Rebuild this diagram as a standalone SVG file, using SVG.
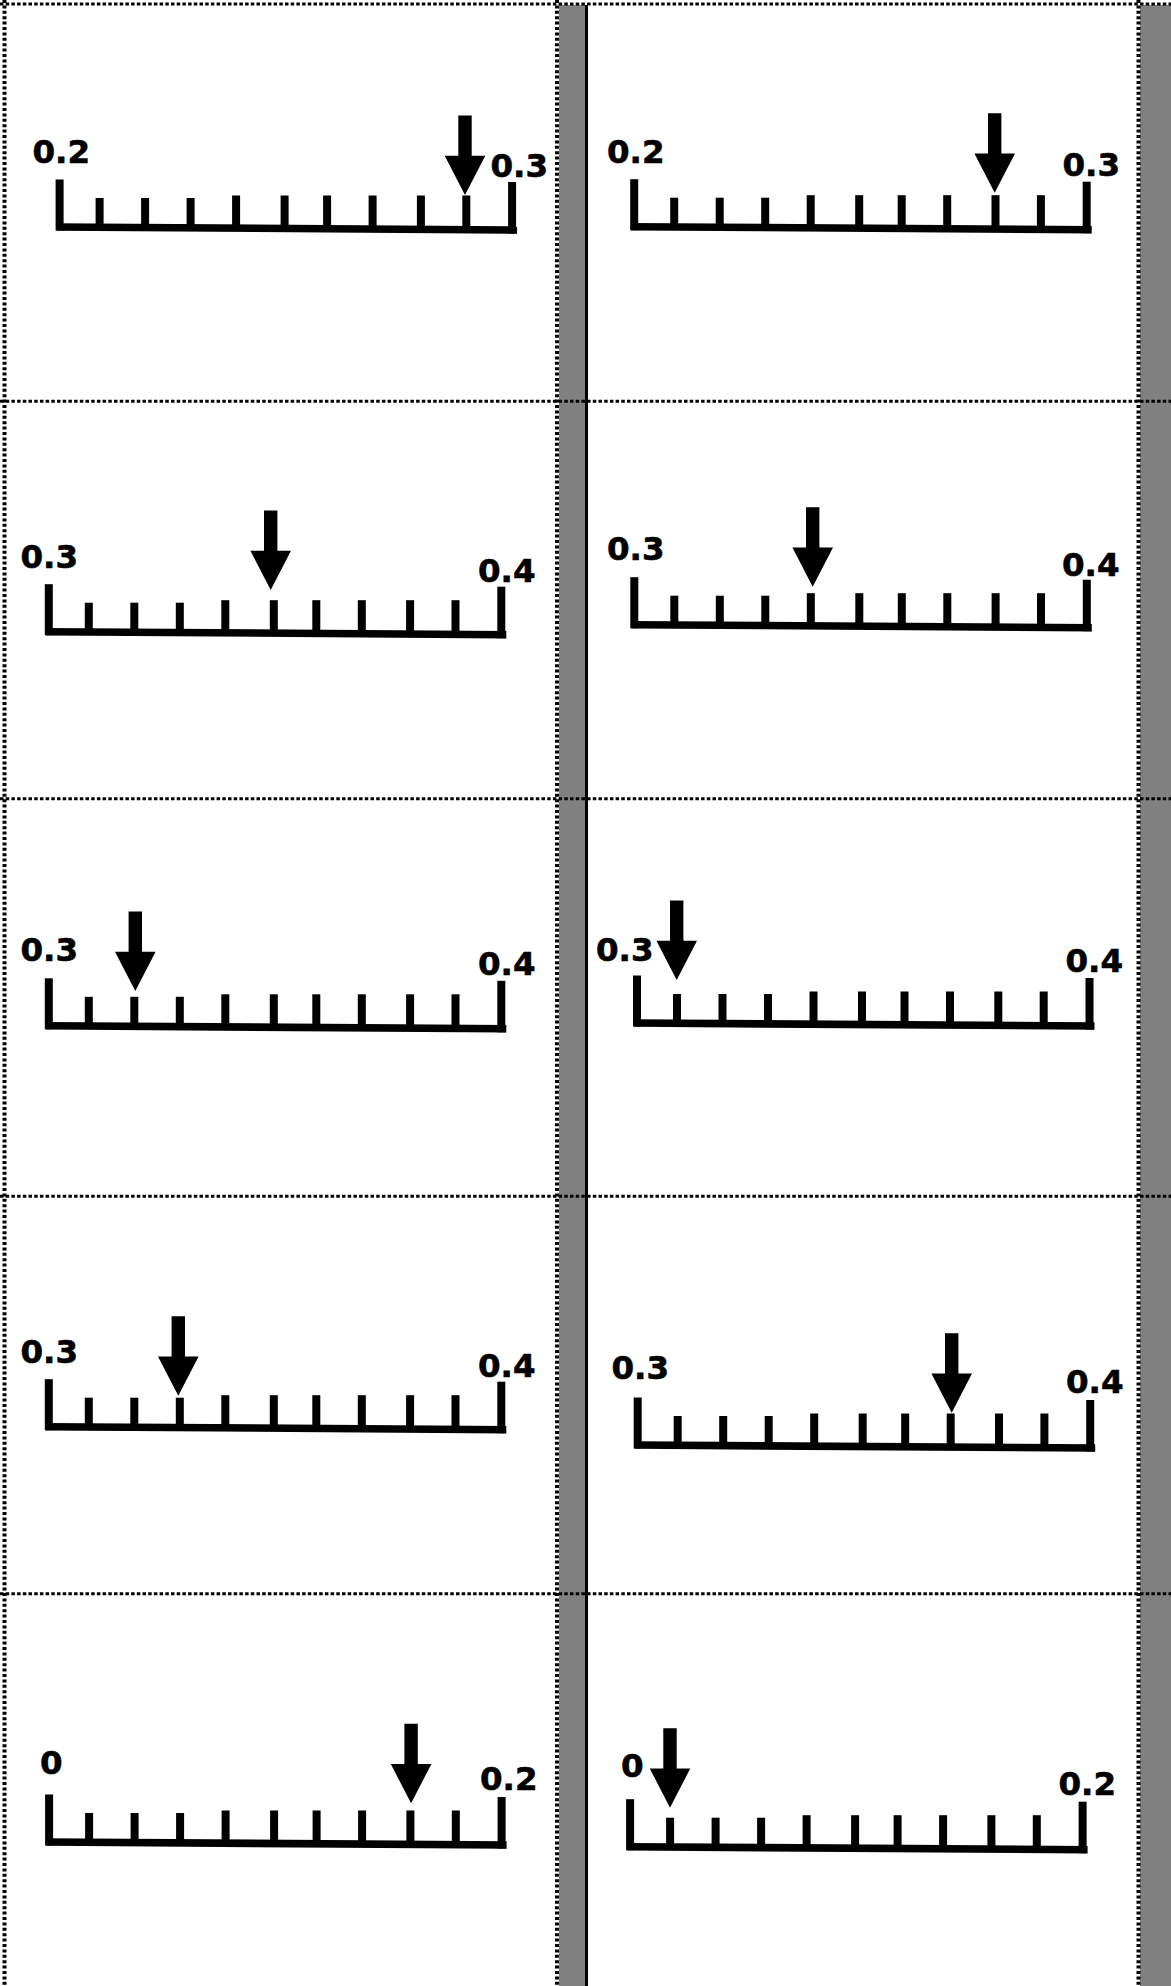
<svg xmlns="http://www.w3.org/2000/svg" xmlns:xlink="http://www.w3.org/1999/xlink" width="1171" height="1986" viewBox="0 0 1171 1986">
<style>
  .lbl{font-family:"DejaVu Sans","Liberation Sans",sans-serif;font-weight:bold;font-size:32.5px;fill:#000;stroke:#000;stroke-width:0.6}
  .hd{stroke:#000;stroke-width:3;stroke-dasharray:3.5 2.2;fill:none}
  .vd{stroke:#000;stroke-width:4;stroke-dasharray:3 2.4;fill:none}
  .bar{fill:#808080}
</style>
<defs>
  <g id="ruler" fill="#000">
    <rect x="-4" y="-47.5" width="8" height="51"/>
    <polygon points="-3,-3.8 457.5,-0.8 457.5,6.8 -3,3.8"/>
    <rect x="36" y="-29" width="8" height="30"/>
    <rect x="81.5" y="-29" width="8" height="30"/>
    <rect x="127" y="-29" width="8" height="30"/>
    <rect x="172.5" y="-31.5" width="8" height="32.5"/>
    <rect x="221" y="-31.5" width="8" height="33"/>
    <rect x="263.5" y="-31.5" width="8" height="33"/>
    <rect x="309" y="-31.5" width="8" height="33.5"/>
    <rect x="357.3" y="-31.5" width="8" height="34"/>
    <rect x="402.7" y="-31.5" width="8" height="34"/>
    <rect x="448.5" y="-45" width="8" height="51.5"/>
  </g>
  <path id="arrow" fill="#000" d="M-6.7,-79.5 H6.7 V-39.3 H20.3 L0,0 L-20.3,-39.3 H-6.7 Z"/>
</defs>
<rect width="1171" height="1986" fill="#fff"/>
<g id="frame">
  <rect class="bar" x="559" y="5" width="26" height="1981"/>
  <rect class="bar" x="1140" y="5" width="31" height="1981"/>
  <rect x="585" y="5" width="3" height="1981" fill="#000"/>
  <line class="hd" x1="0" y1="4" x2="1171" y2="4"/>
  <line class="hd" x1="0" y1="401.3" x2="1171" y2="401.3"/>
  <line class="hd" x1="0" y1="798.8" x2="1171" y2="798.8"/>
  <line class="hd" x1="0" y1="1196.3" x2="1171" y2="1196.3"/>
  <line class="hd" x1="0" y1="1593.7" x2="1171" y2="1593.7"/>
  <line class="vd" x1="4.5" y1="0" x2="4.5" y2="1986"/>
  <line class="vd" x1="557" y1="0" x2="557" y2="1986"/>
  <line class="vd" x1="1138.5" y1="0" x2="1138.5" y2="1986"/>
</g>
<g id="connectors"></g>
<g id="cell-1">
  <use xlink:href="#ruler" href="#ruler" transform="translate(59.6,227)"/>
  <use xlink:href="#arrow" href="#arrow" transform="translate(465,195)"/>
  <text class="lbl" x="32.5" y="163.3">0.2</text>
  <text class="lbl" x="490.5" y="176.7">0.3</text>
</g>
<g id="cell-2">
  <use xlink:href="#ruler" href="#ruler" transform="translate(634.2,226.7)"/>
  <use xlink:href="#arrow" href="#arrow" transform="translate(994.7,192.7)"/>
  <text class="lbl" x="607" y="163.3">0.2</text>
  <text class="lbl" x="1062.5" y="176">0.3</text>
</g>
<g id="cell-3">
  <use xlink:href="#ruler" href="#ruler" transform="translate(48.8,631.7)"/>
  <use xlink:href="#arrow" href="#arrow" transform="translate(270.7,590)"/>
  <text class="lbl" x="20.5" y="567.7">0.3</text>
  <text class="lbl" x="478" y="582.3">0.4</text>
</g>
<g id="cell-4">
  <use xlink:href="#ruler" href="#ruler" transform="translate(634.3,624.7)"/>
  <use xlink:href="#arrow" href="#arrow" transform="translate(812.7,586.7)"/>
  <text class="lbl" x="607" y="560">0.3</text>
  <text class="lbl" x="1062" y="576">0.4</text>
</g>
<g id="cell-5">
  <use xlink:href="#ruler" href="#ruler" transform="translate(48.8,1025.8)"/>
  <use xlink:href="#arrow" href="#arrow" transform="translate(135.3,991)"/>
  <text class="lbl" x="20.5" y="961">0.3</text>
  <text class="lbl" x="478" y="975">0.4</text>
</g>
<g id="cell-6">
  <use xlink:href="#ruler" href="#ruler" transform="translate(637,1023)"/>
  <use xlink:href="#arrow" href="#arrow" transform="translate(676.7,980)"/>
  <text class="lbl" x="596" y="961">0.3</text>
  <text class="lbl" x="1065.5" y="972">0.4</text>
</g>
<g id="cell-7">
  <use xlink:href="#ruler" href="#ruler" transform="translate(48.8,1426.7)"/>
  <use xlink:href="#arrow" href="#arrow" transform="translate(178.3,1395.7)"/>
  <text class="lbl" x="20.5" y="1363.3">0.3</text>
  <text class="lbl" x="478" y="1377.3">0.4</text>
</g>
<g id="cell-8">
  <use xlink:href="#ruler" href="#ruler" transform="translate(637.7,1445)"/>
  <use xlink:href="#arrow" href="#arrow" transform="translate(951.7,1412.7)"/>
  <text class="lbl" x="611.5" y="1379.3">0.3</text>
  <text class="lbl" x="1066" y="1392.7">0.4</text>
</g>
<g id="cell-9">
  <use xlink:href="#ruler" href="#ruler" transform="translate(49.1,1842)"/>
  <use xlink:href="#arrow" href="#arrow" transform="translate(411.1,1803.3)"/>
  <text class="lbl" x="40" y="1774">0</text>
  <text class="lbl" x="480" y="1790">0.2</text>
</g>
<g id="cell-10">
  <use xlink:href="#ruler" href="#ruler" transform="translate(630.1,1846.7)"/>
  <use xlink:href="#arrow" href="#arrow" transform="translate(670,1807.7)"/>
  <text class="lbl" x="621" y="1777.3">0</text>
  <text class="lbl" x="1058.5" y="1795">0.2</text>
</g>
</svg>
